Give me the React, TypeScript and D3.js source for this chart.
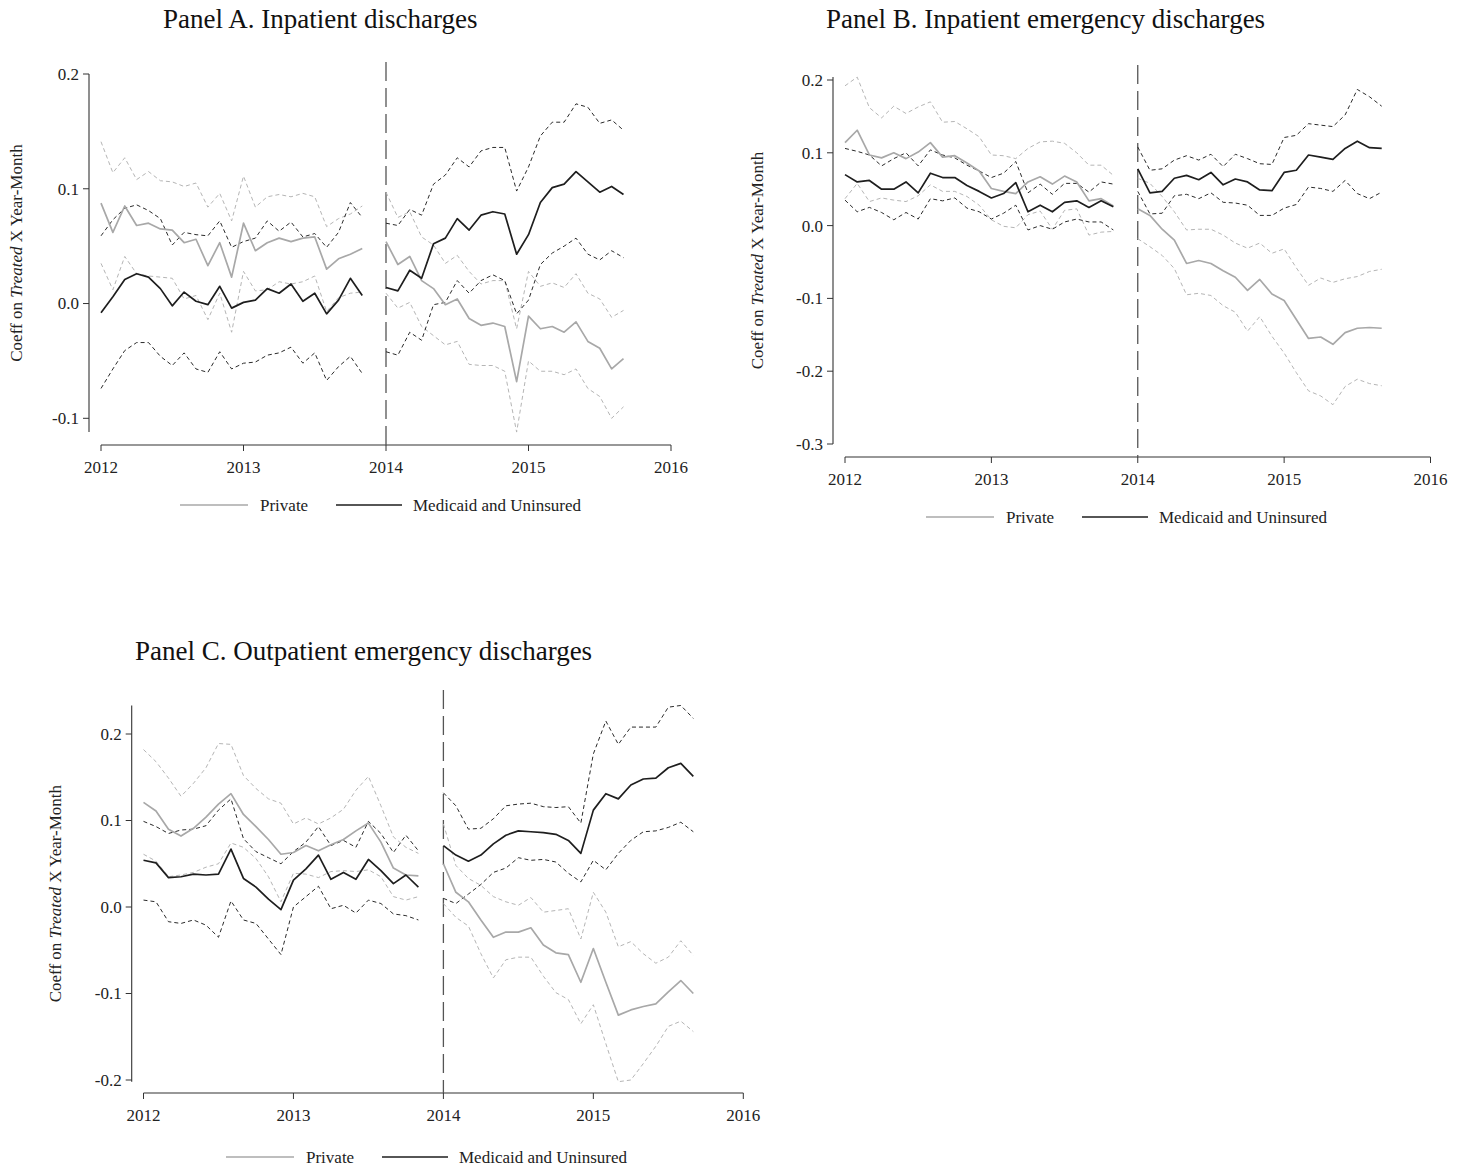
import React from 'react';
import * as d3 from 'd3';

// ---------- shared axis / legend labels ----------
const yearTickMonths = [0, 12, 24, 36, 48];
const yearLabels = ['2012', '2013', '2014', '2015', '2016'];
const policyMonth = 24;
const legendLabels = ['Private', 'Medicaid and Uninsured'];
const panelTitles = [
  'Panel A. Inpatient discharges',
  'Panel B. Inpatient emergency discharges',
  'Panel C. Outpatient emergency discharges',
];
const yTicksA = [-0.1, 0, 0.1, 0.2];
const yTicksB = [-0.3, -0.2, -0.1, 0, 0.1, 0.2];
const yTicksC = [-0.2, -0.1, 0, 0.1, 0.2];

// Months since Jan 2012: 0..22 (Jan 2012 - Nov 2013), null for Dec 2013 gap, 24..44 (Jan 2014 - Sep 2015)
type V = number | null;

// ---------- Panel A ----------
const aPrivEst: V[] = [0.0875, 0.062, 0.085, 0.068, 0.070, 0.065, 0.064, 0.053, 0.056, 0.033, 0.053, 0.023, 0.070, 0.046, 0.053, 0.057, 0.054, 0.057, 0.058, 0.030, 0.039, 0.043, 0.048, null,
  0.054, 0.034, 0.041, 0.020, 0.013, -0.001, 0.004, -0.013, -0.019, -0.017, -0.020, -0.068, -0.011, -0.022, -0.020, -0.025, -0.016, -0.033, -0.039, -0.057, -0.048];
const aPrivHi: V[] = [0.141, 0.114, 0.127, 0.108, 0.115, 0.107, 0.106, 0.102, 0.105, 0.084, 0.096, 0.072, 0.111, 0.084, 0.093, 0.095, 0.093, 0.096, 0.093, 0.067, 0.074, 0.078, 0.085, null,
  0.097, 0.075, 0.080, 0.058, 0.051, 0.035, 0.042, 0.028, 0.017, 0.020, 0.020, -0.022, 0.028, 0.015, 0.018, 0.014, 0.026, 0.009, 0.004, -0.012, -0.006];
const aPrivLo: V[] = [0.035, 0.012, 0.041, 0.026, 0.024, 0.023, 0.022, 0.004, 0.007, -0.014, 0.009, -0.025, 0.028, 0.011, 0.012, 0.019, 0.017, 0.019, 0.024, -0.007, 0.005, 0.009, 0.010, null,
  0.009, -0.004, 0.001, -0.020, -0.028, -0.036, -0.033, -0.053, -0.054, -0.054, -0.059, -0.112, -0.050, -0.059, -0.059, -0.062, -0.057, -0.074, -0.081, -0.100, -0.090];
const aMedEst: V[] = [-0.008, 0.006, 0.021, 0.026, 0.023, 0.013, -0.002, 0.010, 0.002, -0.001, 0.015, -0.004, 0.001, 0.003, 0.013, 0.009, 0.017, 0.002, 0.009, -0.009, 0.003, 0.022, 0.007, null,
  0.014, 0.011, 0.029, 0.022, 0.052, 0.057, 0.074, 0.064, 0.077, 0.080, 0.078, 0.043, 0.060, 0.088, 0.101, 0.104, 0.115, 0.106, 0.097, 0.102, 0.095];
const aMedHi: V[] = [0.059, 0.073, 0.083, 0.086, 0.081, 0.074, 0.051, 0.062, 0.060, 0.059, 0.072, 0.049, 0.054, 0.057, 0.072, 0.063, 0.071, 0.058, 0.061, 0.049, 0.062, 0.088, 0.075, null,
  0.070, 0.068, 0.082, 0.077, 0.104, 0.112, 0.127, 0.119, 0.133, 0.136, 0.136, 0.098, 0.119, 0.146, 0.158, 0.158, 0.174, 0.171, 0.157, 0.160, 0.151];
const aMedLo: V[] = [-0.074, -0.057, -0.041, -0.034, -0.034, -0.046, -0.054, -0.043, -0.057, -0.060, -0.042, -0.057, -0.052, -0.051, -0.045, -0.043, -0.038, -0.052, -0.043, -0.067, -0.055, -0.046, -0.061, null,
  -0.042, -0.045, -0.025, -0.032, -0.001, 0.001, 0.020, 0.009, 0.020, 0.025, 0.020, -0.009, 0.003, 0.034, 0.044, 0.050, 0.057, 0.043, 0.038, 0.046, 0.040];

// ---------- Panel B ----------
const bPrivEst: V[] = [0.114, 0.131, 0.097, 0.093, 0.100, 0.092, 0.101, 0.114, 0.094, 0.096, 0.086, 0.075, 0.051, 0.047, 0.044, 0.060, 0.067, 0.057, 0.068, 0.060, 0.034, 0.037, 0.027, null,
  0.023, 0.014, -0.005, -0.020, -0.052, -0.048, -0.052, -0.062, -0.071, -0.089, -0.074, -0.094, -0.103, -0.129, -0.155, -0.153, -0.163, -0.147, -0.141, -0.140, -0.141];
const bPrivHi: V[] = [0.192, 0.204, 0.162, 0.148, 0.164, 0.154, 0.163, 0.170, 0.142, 0.143, 0.133, 0.122, 0.097, 0.096, 0.092, 0.106, 0.115, 0.116, 0.113, 0.100, 0.083, 0.083, 0.069, null,
  0.065, 0.058, 0.040, 0.019, -0.006, -0.005, -0.005, -0.013, -0.024, -0.031, -0.024, -0.038, -0.032, -0.058, -0.082, -0.072, -0.078, -0.073, -0.070, -0.063, -0.060];
const bPrivLo: V[] = [0.037, 0.058, 0.033, 0.038, 0.035, 0.033, 0.041, 0.056, 0.047, 0.047, 0.040, 0.028, 0.008, -0.001, -0.003, 0.015, 0.020, -0.005, 0.021, 0.023, -0.013, -0.009, -0.008, null,
  -0.018, -0.029, -0.041, -0.059, -0.095, -0.093, -0.096, -0.110, -0.119, -0.145, -0.125, -0.152, -0.175, -0.202, -0.227, -0.234, -0.246, -0.221, -0.211, -0.217, -0.220];
const bMedEst: V[] = [0.070, 0.060, 0.062, 0.050, 0.050, 0.060, 0.045, 0.072, 0.066, 0.066, 0.055, 0.047, 0.038, 0.044, 0.059, 0.019, 0.028, 0.019, 0.032, 0.034, 0.025, 0.034, 0.026, null,
  0.078, 0.045, 0.047, 0.065, 0.069, 0.063, 0.073, 0.056, 0.064, 0.060, 0.049, 0.048, 0.073, 0.076, 0.097, 0.094, 0.091, 0.106, 0.116, 0.107, 0.106];
const bMedHi: V[] = [0.106, 0.102, 0.097, 0.082, 0.092, 0.100, 0.082, 0.104, 0.097, 0.093, 0.083, 0.075, 0.066, 0.072, 0.088, 0.045, 0.057, 0.043, 0.058, 0.058, 0.046, 0.060, 0.057, null,
  0.108, 0.076, 0.078, 0.090, 0.096, 0.090, 0.098, 0.081, 0.098, 0.092, 0.085, 0.084, 0.121, 0.124, 0.140, 0.138, 0.136, 0.152, 0.187, 0.177, 0.164];
const bMedLo: V[] = [0.035, 0.019, 0.025, 0.018, 0.008, 0.018, 0.009, 0.037, 0.034, 0.038, 0.024, 0.019, 0.009, 0.017, 0.028, -0.006, 0.000, -0.005, 0.005, 0.009, 0.005, 0.005, -0.006, null,
  0.047, 0.016, 0.017, 0.041, 0.043, 0.037, 0.045, 0.032, 0.031, 0.028, 0.014, 0.014, 0.024, 0.029, 0.053, 0.051, 0.047, 0.062, 0.044, 0.037, 0.046];

// ---------- Panel C ----------
const cPrivEst: V[] = [0.121, 0.111, 0.090, 0.082, 0.091, 0.104, 0.119, 0.131, 0.107, 0.093, 0.078, 0.061, 0.063, 0.071, 0.065, 0.072, 0.078, 0.088, 0.097, 0.075, 0.045, 0.037, 0.036, null,
  0.050, 0.017, 0.006, -0.015, -0.035, -0.029, -0.029, -0.024, -0.044, -0.053, -0.055, -0.087, -0.048, -0.087, -0.125, -0.119, -0.115, -0.112, -0.098, -0.085, -0.100];
const cPrivHi: V[] = [0.182, 0.168, 0.149, 0.128, 0.143, 0.161, 0.189, 0.188, 0.152, 0.137, 0.125, 0.120, 0.096, 0.103, 0.096, 0.103, 0.113, 0.135, 0.151, 0.117, 0.081, 0.069, 0.062, null,
  0.096, 0.048, 0.033, 0.025, 0.012, 0.006, 0.002, 0.011, -0.006, -0.004, -0.002, -0.037, 0.017, -0.006, -0.046, -0.040, -0.054, -0.065, -0.058, -0.039, -0.056];
const cPrivLo: V[] = [0.061, 0.053, 0.035, 0.037, 0.040, 0.046, 0.050, 0.074, 0.069, 0.056, 0.035, 0.006, 0.039, 0.038, 0.034, 0.041, 0.042, 0.041, 0.043, 0.035, 0.012, 0.008, 0.012, null,
  0.004, -0.012, -0.022, -0.054, -0.082, -0.061, -0.058, -0.058, -0.080, -0.099, -0.107, -0.135, -0.113, -0.158, -0.202, -0.200, -0.181, -0.161, -0.138, -0.132, -0.144];
const cMedEst: V[] = [0.054, 0.051, 0.034, 0.035, 0.038, 0.037, 0.038, 0.067, 0.033, 0.023, 0.009, -0.003, 0.031, 0.044, 0.060, 0.032, 0.040, 0.032, 0.055, 0.042, 0.027, 0.037, 0.023, null,
  0.071, 0.060, 0.053, 0.060, 0.073, 0.083, 0.088, 0.087, 0.086, 0.084, 0.077, 0.062, 0.112, 0.131, 0.125, 0.141, 0.148, 0.149, 0.161, 0.166, 0.151];
const cMedHi: V[] = [0.099, 0.093, 0.085, 0.089, 0.090, 0.094, 0.112, 0.125, 0.079, 0.064, 0.057, 0.050, 0.064, 0.075, 0.093, 0.071, 0.077, 0.069, 0.099, 0.085, 0.063, 0.083, 0.065, null,
  0.132, 0.117, 0.090, 0.091, 0.102, 0.117, 0.119, 0.120, 0.116, 0.115, 0.116, 0.097, 0.177, 0.215, 0.188, 0.208, 0.208, 0.208, 0.231, 0.233, 0.218];
const cMedLo: V[] = [0.008, 0.006, -0.017, -0.019, -0.015, -0.021, -0.035, 0.007, -0.015, -0.019, -0.037, -0.055, 0.000, 0.012, 0.024, -0.002, 0.002, -0.007, 0.008, 0.004, -0.008, -0.010, -0.015, null,
  0.010, 0.004, 0.015, 0.026, 0.040, 0.045, 0.057, 0.054, 0.055, 0.052, 0.039, 0.029, 0.054, 0.043, 0.062, 0.077, 0.087, 0.088, 0.092, 0.098, 0.087];

// ---------- styles ----------
const FONT = '"Liberation Serif", "DejaVu Serif", serif';
const styles = {
  privCI: { stroke: '#b5b5b5', width: 1, dash: '4 3' },
  medCI: { stroke: '#2a2a2a', width: 1, dash: '4 3' },
  privEst: { stroke: '#a8a8a8', width: 1.7, dash: undefined as string | undefined },
  medEst: { stroke: '#1e1e1e', width: 1.7, dash: undefined as string | undefined },
};

type Layout = {
  titleX: number; titleY: number;
  axisX: number; tickLoPx: number; tickHiPx: number;
  xAxisY: number; x0: number; x1: number;
  vTop: number; yLabelX: number;
  legendX: number; legendY: number;
};

const layouts: Layout[] = [
  { titleX: 163, titleY: 28, axisX: 89, tickLoPx: 418.3, tickHiPx: 74, xAxisY: 445, x0: 101, x1: 671, vTop: 62, yLabelX: 22, legendX: 180, legendY: 505 },
  { titleX: 826, titleY: 28, axisX: 833, tickLoPx: 444, tickHiPx: 80, xAxisY: 457, x0: 845, x1: 1430.5, vTop: 65, yLabelX: 763, legendX: 926, legendY: 517 },
  { titleX: 135, titleY: 660, axisX: 131.7, tickLoPx: 1080, tickHiPx: 734, xAxisY: 1093, x0: 143.5, x1: 743.3, vTop: 690, yLabelX: 61, legendX: 226, legendY: 1157 },
];

type Series = { values: V[]; style: { stroke: string; width: number; dash?: string } };

function Panel({ lay, title, ticks, series }: { lay: Layout; title: string; ticks: number[]; series: Series[] }) {
  const tLo = ticks[0];
  const tHi = ticks[ticks.length - 1];
  const y = d3.scaleLinear().domain([tLo, tHi]).range([lay.tickLoPx, lay.tickHiPx]);
  const x = d3.scaleLinear().domain([0, 48]).range([lay.x0, lay.x1]);
  const allVals = series.flatMap((s) => s.values.filter((v): v is number => v != null));
  const dMin = Math.min(tLo, d3.min(allVals) as number);
  const dMax = Math.max(tHi, d3.max(allVals) as number);
  const line = d3
    .line<V>()
    .defined((v) => v != null)
    .x((_, i) => x(i))
    .y((v) => y(v as number));
  const yMid = (y(dMin) + y(dMax)) / 2;
  const axisColor = '#333';

  return (
    <g>
      <text x={lay.titleX} y={lay.titleY} fontSize={27} fill="#111" fontFamily={FONT}>{title}</text>

      {/* y axis */}
      <line x1={lay.axisX} x2={lay.axisX} y1={y(dMax)} y2={y(dMin)} stroke={axisColor} strokeWidth={1.1} />
      {ticks.map((t) => (
        <g key={t}>
          <line x1={lay.axisX - 6} x2={lay.axisX} y1={y(t)} y2={y(t)} stroke={axisColor} strokeWidth={1} />
          <text x={lay.axisX - 10} y={y(t)} dy="0.35em" textAnchor="end" fontSize={17} fill="#222" fontFamily={FONT}>
            {t.toFixed(1)}
          </text>
        </g>
      ))}
      <text
        transform={`translate(${lay.yLabelX},${yMid}) rotate(-90)`}
        textAnchor="middle"
        fontSize={17}
        fill="#222"
        fontFamily={FONT}
      >
        Coeff on <tspan fontStyle="italic">Treated</tspan> X Year-Month
      </text>

      {/* x axis */}
      <line x1={x(0)} x2={x(48)} y1={lay.xAxisY} y2={lay.xAxisY} stroke={axisColor} strokeWidth={1.1} />
      {yearTickMonths.map((m, i) => (
        <g key={m}>
          <line x1={x(m)} x2={x(m)} y1={lay.xAxisY} y2={lay.xAxisY + 6} stroke={axisColor} strokeWidth={1} />
          <text x={x(m)} y={lay.xAxisY + 27.5} textAnchor="middle" fontSize={17} fill="#222" fontFamily={FONT}>
            {yearLabels[i]}
          </text>
        </g>
      ))}

      {/* policy line */}
      <line x1={x(policyMonth)} x2={x(policyMonth)} y1={lay.vTop} y2={lay.xAxisY} stroke="#555" strokeWidth={1.3} strokeDasharray="19 7" />

      {/* series */}
      {series.map((s, i) => (
        <path
          key={i}
          d={line(s.values) || ''}
          fill="none"
          stroke={s.style.stroke}
          strokeWidth={s.style.width}
          strokeDasharray={s.style.dash}
          strokeLinejoin="round"
        />
      ))}

      {/* legend */}
      <line x1={lay.legendX} x2={lay.legendX + 68} y1={lay.legendY} y2={lay.legendY} stroke={styles.privEst.stroke} strokeWidth={1.7} />
      <text x={lay.legendX + 80} y={lay.legendY + 6} fontSize={17} fill="#222" fontFamily={FONT}>{legendLabels[0]}</text>
      <line x1={lay.legendX + 156} x2={lay.legendX + 222} y1={lay.legendY} y2={lay.legendY} stroke={styles.medEst.stroke} strokeWidth={1.7} />
      <text x={lay.legendX + 233} y={lay.legendY + 6} fontSize={17} fill="#222" fontFamily={FONT}>{legendLabels[1]}</text>
    </g>
  );
}

function mkSeries(pEst: V[], pLo: V[], pHi: V[], mEst: V[], mLo: V[], mHi: V[]): Series[] {
  return [
    { values: pHi, style: styles.privCI },
    { values: pLo, style: styles.privCI },
    { values: mHi, style: styles.medCI },
    { values: mLo, style: styles.medCI },
    { values: pEst, style: styles.privEst },
    { values: mEst, style: styles.medEst },
  ];
}

export default function App() {
  return (
    <svg
      width={1467}
      height={1168}
      viewBox="0 0 1467 1168"
      style={{ position: 'absolute', left: 0, top: 0, background: '#fff' }}
    >
      <rect width={1467} height={1168} fill="#fff" />
      <Panel lay={layouts[0]} title={panelTitles[0]} ticks={yTicksA} series={mkSeries(aPrivEst, aPrivLo, aPrivHi, aMedEst, aMedLo, aMedHi)} />
      <Panel lay={layouts[1]} title={panelTitles[1]} ticks={yTicksB} series={mkSeries(bPrivEst, bPrivLo, bPrivHi, bMedEst, bMedLo, bMedHi)} />
      <Panel lay={layouts[2]} title={panelTitles[2]} ticks={yTicksC} series={mkSeries(cPrivEst, cPrivLo, cPrivHi, cMedEst, cMedLo, cMedHi)} />
    </svg>
  );
}
